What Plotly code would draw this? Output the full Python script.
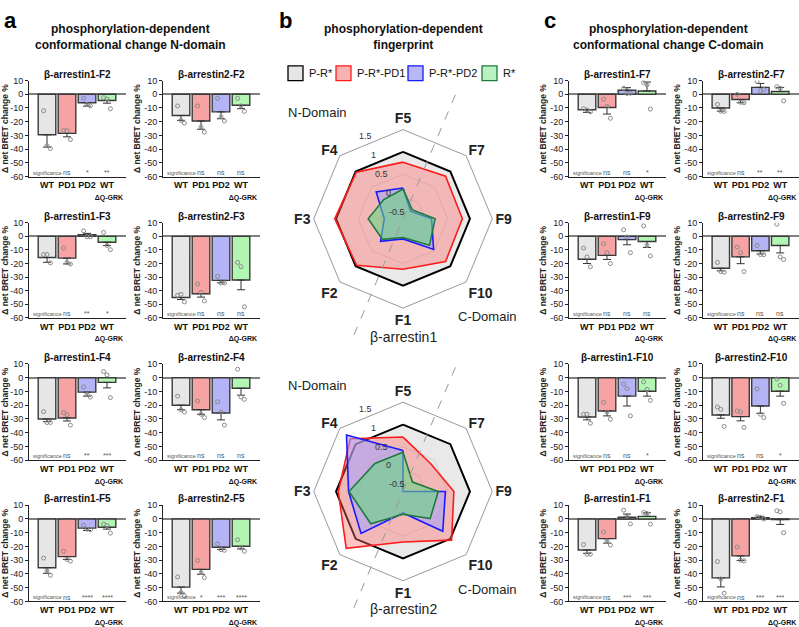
import plotly.graph_objects as go
import math

W, H = 799, 627
FONT = "Liberation Sans, Arial, sans-serif"

# ---------------- data: bar panels ----------------
group_ticks = ["<b>WT</b>", "<b>PD1</b>", "<b>PD2</b>",
               "<b>WT</b><br><span style='font-size:7px'><b>  ΔQ-GRK</b></span>"]
y_tick_vals = [10, 0, -10, -20, -30, -40, -50, -60]
y_tick_text = ["10", "0", "-10", "-20", "-30", "-40", "-50", "-60"]

# panel a (N-domain)
b1_F2_mean = [-29.5, -28.5, -6.2, -4.5]
b1_F2_err = [9.0, 2.5, 2.5, 2.0]
b1_F2_pts = [[-12, -37.5, -39.5], [-26.5, -26.5, -33], [-3, -7.5, -8.5], [-2.5, -3.5, -10.5]]
b1_F2_sig = ["ns", "*", "**"]

b2_F2_mean = [-15.5, -19.5, -12.8, -8.0]
b2_F2_err = [3.5, 6.0, 5.0, 2.5]
b2_F2_pts = [[-8.5, -19, -21], [-8.5, -24, -27.5], [-3, -16.5, -19.5], [-3, -8.5, -12.5]]
b2_F2_sig = ["ns", "ns", "ns"]

b1_F3_mean = [-15.6, -16.0, 1.2, -4.3]
b1_F3_err = [3.5, 4.3, 1.0, 2.5]
b1_F3_pts = [[-13.4, -13.4, -19.5], [-8.6, -19.3, -20.4], [4, -0.3, -0.3], [2.9, -6.7, -9.8]]
b1_F3_sig = ["ns", "**", "*"]

b2_F3_mean = [-45.0, -42.2, -32.4, -32.1]
b2_F3_err = [1.5, 2.5, 1.8, 7.2]
b2_F3_pts = [[-43.4, -42.7, -48.2], [-35, -41.2, -47.5], [-29.5, -34.3, -34.3], [-19.2, -22.3, -51.8]]
b2_F3_sig = ["ns", "ns", "ns"]

b1_F4_mean = [-30.0, -29.3, -10.5, -3.4]
b1_F4_err = [2.0, 2.2, 2.9, 4.0]
b1_F4_pts = [[-24.7, -32.6, -32.6], [-25.4, -27, -34.5], [-6.7, -12.2, -14.1], [4.5, 2.0, -14.5]]
b1_F4_sig = ["ns", "**", "***"]

b2_F4_mean = [-20.0, -23.3, -25.7, -7.7]
b2_F4_err = [3.3, 3.3, 5.0, 5.0]
b2_F4_pts = [[-13.4, -23.3, -25], [-17, -26.6, -29], [-17.5, -25, -34.5], [6.2, -14, -15.8]]
b2_F4_sig = ["ns", "ns", "ns"]

b1_F5_mean = [-35.5, -27.4, -6.7, -6.0]
b1_F5_err = [4.1, 2.1, 1.7, 1.4]
b1_F5_pts = [[-28.5, -37.9, -41], [-23.5, -29.5, -30.7], [-4.6, -7.4, -7.9], [-3.8, -4.8, -10.3]]
b1_F5_sig = ["ns", "****", "****"]

b2_F5_mean = [-49.6, -36.7, -20.6, -19.9]
b2_F5_err = [4.4, 3.6, 1.7, 1.9]
b2_F5_pts = [[-42.2, -53.5, -56], [-30.2, -39.1, -42.7], [-18.2, -22.3, -22.8], [-15.1, -21, -23.5]]
b2_F5_sig = ["*", "***", "****"]

# panel c (C-domain)
b1_F7_mean = [-11.3, -9.6, 2.9, 2.4]
b1_F7_err = [1.9, 4.8, 1.9, 6.5]
b1_F7_pts = [[-10.5, -11.5, -12.8], [-3.6, -8.9, -17.5], [4.3, 0.6, 0.8], [8.5, 6.8, -10.8]]
b1_F7_sig = ["ns", "ns", "*"]

b2_F7_mean = [-10.0, -3.8, 5.0, 2.0]
b2_F7_err = [2.3, 2.4, 2.9, 3.0]
b2_F7_pts = [[-7.3, -12.3, -12.5], [0, -5.8, -6.2], [9.4, 2.6, 3.4], [5.5, 4.3, -4.8]]
b2_F7_sig = ["ns", "**", "**"]

b1_F9_mean = [-16.9, -14.0, -2.4, -3.8]
b1_F9_err = [3.1, 3.0, 3.8, 4.4]
b1_F9_pts = [[-8.6, -15.1, -22.4], [-5.5, -12, -20], [4.8, -0.5, -12], [7.7, -6.7, -14.4]]
b1_F9_sig = ["ns", "ns", "ns"]

b2_F9_mean = [-23.5, -15.1, -10.6, -6.7]
b2_F9_err = [1.9, 5.0, 2.4, 5.5]
b2_F9_pts = [[-19.2, -25.9, -26.4], [-7.9, -12, -25.9], [-6.7, -13.4, -13.5], [8.9, -15.1, -17]]
b2_F9_sig = ["ns", "ns", "ns"]

b1_F10_mean = [-28.6, -24.2, -13.4, -9.8]
b1_F10_err = [2.1, 3.6, 7.2, 3.6]
b1_F10_pts = [[-26.6, -26.6, -33.1], [-17.8, -25, -30.2], [-4.6, -7.9, -27.8], [-3, -8.5, -16.5]]
b1_F10_sig = ["ns", "ns", "*"]

b2_F10_mean = [-27.1, -28.3, -20.6, -9.8]
b2_F10_err = [2.4, 3.1, 5.3, 3.6]
b2_F10_pts = [[-21.3, -23, -35.5], [-24.2, -24.9, -36.2], [-8.1, -26.6, -29], [-1, -5.5, -18.7]]
b2_F10_sig = ["ns", "ns", "*"]

b1_F1_mean = [-22.6, -14.3, 1.2, 1.9]
b1_F1_err = [2.4, 3.3, 2.4, 2.6]
b1_F1_pts = [[-18.6, -25.7, -25.7], [-9.5, -16, -19], [6.4, 2.4, -3.6], [4.8, 4, -3.8]]
b1_F1_sig = ["ns", "***", "***"]

b2_F1_mean = [-42.9, -26.9, 1.0, -0.5]
b2_F1_err = [6.6, 3.3, 0.9, 3.5]
b2_F1_pts = [[-31, -43.7, -54], [-20.5, -30, -30.5], [1.7, 1.2, 0], [6, 5.2, -10]]
b2_F1_sig = ["ns", "***", "***"]

# ---------------- data: radar (fingerprint) ----------------
radar_sensors = ["F5", "F7", "F9", "F10", "F1", "F2", "F3", "F4"]
radar_series = ["P-R*", "P-R*-PD1", "P-R*-PD2", "R*"]
r1_PR = [1, 1, 1, 1, 1, 1, 1, 1]
r1_PD1 = [0.77, 0.85, 0.83, 0.85, 0.63, 0.97, 1.03, 0.98]
r1_PD2 = [0.19, -0.26, 0.14, 0.47, -0.05, 0.21, -0.08, 0.35]
r1_R = [0.17, -0.21, 0.22, 0.34, -0.08, 0.15, 0.28, 0.11]
r2_PR = [1, 1, 1, 1, 1, 1, 1, 1]
r2_PD1 = [0.72, 0.38, 0.64, 1.04, 0.63, 1.30, 0.95, 1.17]
r2_PD2 = [0.42, -0.5, 0.45, 0.76, -0.02, 0.83, 0.72, 1.29]
r2_R = [0.38, -0.2, 0.29, 0.36, 0.01, 0.52, 0.71, 0.39]
radial_range = [-0.5, 1.5]
radial_ticks = [-0.5, 0, 0.5, 1, 1.5]
radial_tick_text = ["-0.5", "0", "0.5", "1", "1.5"]

# ---------------- styles / layout geometry ----------------
bar_fill = ["#e6e6e6", "#f7a3a3", "#b3b3f5", "#b3f5b3"]
bar_edge = "#3a3a3a"
jitter = [-0.17, 0.0, 0.17]
col_px = [(29, 126), (163, 260), (569, 666), (703, 799)]
row_px = [(77, 175), (222, 319), (366, 464), (510, 608)]

panels = [
    ("β-arrestin1-F2", b1_F2_mean, b1_F2_err, b1_F2_pts, b1_F2_sig, 0, 0),
    ("β-arrestin2-F2", b2_F2_mean, b2_F2_err, b2_F2_pts, b2_F2_sig, 1, 0),
    ("β-arrestin1-F3", b1_F3_mean, b1_F3_err, b1_F3_pts, b1_F3_sig, 0, 1),
    ("β-arrestin2-F3", b2_F3_mean, b2_F3_err, b2_F3_pts, b2_F3_sig, 1, 1),
    ("β-arrestin1-F4", b1_F4_mean, b1_F4_err, b1_F4_pts, b1_F4_sig, 0, 2),
    ("β-arrestin2-F4", b2_F4_mean, b2_F4_err, b2_F4_pts, b2_F4_sig, 1, 2),
    ("β-arrestin1-F5", b1_F5_mean, b1_F5_err, b1_F5_pts, b1_F5_sig, 0, 3),
    ("β-arrestin2-F5", b2_F5_mean, b2_F5_err, b2_F5_pts, b2_F5_sig, 1, 3),
    ("β-arrestin1-F7", b1_F7_mean, b1_F7_err, b1_F7_pts, b1_F7_sig, 2, 0),
    ("β-arrestin2-F7", b2_F7_mean, b2_F7_err, b2_F7_pts, b2_F7_sig, 3, 0),
    ("β-arrestin1-F9", b1_F9_mean, b1_F9_err, b1_F9_pts, b1_F9_sig, 2, 1),
    ("β-arrestin2-F9", b2_F9_mean, b2_F9_err, b2_F9_pts, b2_F9_sig, 3, 1),
    ("β-arrestin1-F10", b1_F10_mean, b1_F10_err, b1_F10_pts, b1_F10_sig, 2, 2),
    ("β-arrestin2-F10", b2_F10_mean, b2_F10_err, b2_F10_pts, b2_F10_sig, 3, 2),
    ("β-arrestin1-F1", b1_F1_mean, b1_F1_err, b1_F1_pts, b1_F1_sig, 2, 3),
    ("β-arrestin2-F1", b2_F1_mean, b2_F1_err, b2_F1_pts, b2_F1_sig, 3, 3),
]

fig = go.Figure()
layout = {}
annotations = []
shapes = []


def ann(text, xp, yp, size, xanchor="center", yanchor="middle", color="#222", **kw):
    """text placed in figure pixels (converted to paper coordinates)"""
    d = dict(text=text, x=xp / W, y=1 - yp / H, xref="paper", yref="paper",
             xanchor=xanchor, yanchor=yanchor, showarrow=False,
             font=dict(size=size, family=FONT, color=color))
    d.update(kw)
    annotations.append(d)


xpos = [0, 1, 2, 3]
for k, (title, mean, err, pts, sig, col, row) in enumerate(panels):
    i = k + 1
    sfx = "" if i == 1 else str(i)
    xref, yref = "x" + sfx, "y" + sfx
    x0, x1 = col_px[col]
    y0, y1 = row_px[row]
    fig.add_trace(go.Bar(
        x=xpos, y=mean, width=0.88, xaxis=xref, yaxis=yref, showlegend=False,
        marker=dict(color=bar_fill, line=dict(color=bar_edge, width=1.4)),
        error_y=dict(type="data", symmetric=False,
                     array=[e if m > 0 else 0 for m, e in zip(mean, err)],
                     arrayminus=[e if m <= 0 else 0 for m, e in zip(mean, err)],
                     color="#333333", thickness=1, width=4),
        hoverinfo="skip"))
    px_, py_ = [], []
    for g, vals in enumerate(pts):
        for j, v in enumerate(vals):
            px_.append(xpos[g] + jitter[j])
            py_.append(v)
    fig.add_trace(go.Scatter(
        x=px_, y=py_, mode="markers", xaxis=xref, yaxis=yref, showlegend=False,
        marker=dict(symbol="circle-open", size=4, color="#8a8a8a", line=dict(width=1)),
        hoverinfo="skip"))
    layout["xaxis" + sfx] = dict(
        domain=[x0 / W, x1 / W], anchor=yref, range=[-0.9, 3.95],
        tickvals=xpos, ticktext=group_ticks, ticks="", tickangle=0, showline=True,
        linecolor="#222", linewidth=1, showgrid=False, zeroline=False,
        tickfont=dict(size=9, family=FONT, color="#111"), fixedrange=True)
    layout["yaxis" + sfx] = dict(
        domain=[1 - y1 / H, 1 - y0 / H], anchor=xref, range=[-60, 10],
        tickvals=y_tick_vals, ticktext=y_tick_text, ticks="outside", ticklen=3,
        tickcolor="#222", showline=True, linecolor="#222", linewidth=1,
        showgrid=False, zeroline=True, zerolinecolor="#808080", zerolinewidth=2,
        tickfont=dict(size=9, family=FONT, color="#222"),
        title=dict(text="<b>Δ net BRET change %</b>", standoff=2,
                   font=dict(size=8.5, family=FONT, color="#222")),
        fixedrange=True)
    ann("<b>%s</b>" % title, (x0 + x1) / 2, y0 + 1, 10, yanchor="bottom", color="#111")
    annotations.append(dict(
        text="significance", x=-0.82, y=-57, xref=xref, yref=yref,
        xanchor="left", yanchor="middle", showarrow=False,
        font=dict(size=5.5, family=FONT, color="#555")))
    for g, s in enumerate(sig):
        annotations.append(dict(
            text=s, x=xpos[g + 1], y=-57, xref=xref, yref=yref,
            xanchor="center", yanchor="middle", showarrow=False,
            font=dict(size=7, family=FONT, color="#555")))

# ---------------- radar charts ----------------
radar_colors = [
    dict(line="#000000", fill="rgba(225,225,225,0.75)", width=2),
    dict(line="#ff1a1a", fill="rgba(255,110,110,0.40)", width=1.6),
    dict(line="#1a1aff", fill="rgba(160,160,255,0.55)", width=1.6),
    dict(line="#1f7a3c", fill="rgba(100,215,130,0.58)", width=1.6),
]
legend_fill = ["#e6e6e6", "#f7b3b3", "#b8b8f7", "#b8f2c0"]
radar_sets = [("polar", [r1_PR, r1_PD1, r1_PD2, r1_R]),
              ("polar2", [r2_PR, r2_PD1, r2_PD2, r2_R])]
for subplot, series_vals in radar_sets:
    for s, vals in enumerate(series_vals):
        c = radar_colors[s]
        fig.add_trace(go.Scatterpolar(
            r=vals + vals[:1], theta=radar_sensors + radar_sensors[:1],
            subplot=subplot, mode="lines", fill="toself",
            fillcolor=c["fill"], line=dict(color=c["line"], width=c["width"]),
            name=radar_series[s], showlegend=False, hoverinfo="skip"))

radar_centers = [(403, 218), (403, 496)]
R_PX = 91
lab_dir = math.radians(112.5)   # radial labels drawn between F4 and F5
for idx, (cx, cy) in enumerate(radar_centers):
    key = "polar" if idx == 0 else "polar2"
    layout[key] = dict(
        domain=dict(x=[(cx - R_PX) / W, (cx + R_PX) / W],
                    y=[1 - (cy + R_PX) / H, 1 - (cy - R_PX) / H]),
        bgcolor="rgba(0,0,0,0)", gridshape="linear",
        radialaxis=dict(range=radial_range, tickvals=radial_ticks,
                        showticklabels=False, showline=False, ticks="",
                        gridcolor="#9a9a9a", gridwidth=0.8),
        angularaxis=dict(direction="clockwise", rotation=90, categoryorder="array",
                         categoryarray=radar_sensors, showgrid=False, showline=True,
                         linecolor="#9a9a9a", linewidth=1, ticks="",
                         tickfont=dict(size=14, family=FONT, color="#222", weight="bold")))
    # radial tick labels along the F4/F5 bisector, placed by the radial scale
    for v, t in zip(radial_ticks, radial_tick_text):
        rp = 8 + (v - radial_range[0]) / (radial_range[1] - radial_range[0]) * (R_PX - 8)
        lx = cx + rp * math.cos(lab_dir) - 3
        ly = cy - rp * math.sin(lab_dir)
        ann(t, lx, ly, 9, color="#333")
    L = 137
    a = math.radians(22.5)
    shapes.append(dict(type="line", xref="paper", yref="paper",
                       x0=(cx + L * math.sin(a)) / W, y0=1 - (cy - L * math.cos(a)) / H,
                       x1=(cx - L * math.sin(a)) / W, y1=1 - (cy + L * math.cos(a)) / H,
                       line=dict(color="#9a9a9a", width=1, dash="dash")))
    ann("N-Domain", cx - 86, cy - 108, 13)
    ann("C-Domain", cx + 84, cy + 100, 13)
    ann("β-arrestin%d" % (idx + 1), cx, cy + 120, 14)

# manual legend (outlined boxes) for the radar series
leg_box_x = [288, 336, 408, 482]
for s, name in enumerate(radar_series):
    bx = leg_box_x[s]
    shapes.append(dict(type="rect", xref="paper", yref="paper",
                       x0=bx / W, x1=(bx + 15) / W, y0=1 - 77 / H, y1=1 - 62 / H,
                       fillcolor=legend_fill[s],
                       line=dict(color=radar_colors[s]["line"], width=1.3)))
    ann(name, bx + 19, 69.5, 11, xanchor="left", color="#111")

# ---------------- panel titles and letters ----------------
panel_titles = [("phosphorylation-dependent<br>conformational change N-domain", 130),
                ("phosphorylation-dependent<br>fingerprint", 403),
                ("phosphorylation-dependent<br>conformational change C-domain", 668)]
for txt, xc in panel_titles:
    ann("<b>%s</b>" % txt, xc, 33, 12, color="#111")
for letter, xl in [("a", 2), ("b", 277), ("c", 542)]:
    ann("<b>%s</b>" % letter, xl, 1, 22, xanchor="left", yanchor="top", color="#000")

fig.update_layout(
    width=W, height=H, autosize=False,
    margin=dict(l=0, r=0, t=0, b=0),
    paper_bgcolor="white", plot_bgcolor="rgba(0,0,0,0)",
    font=dict(family=FONT), showlegend=False,
    annotations=annotations, shapes=shapes,
    **layout)

fig.write_html("out.html", config={"displayModeBar": False},
               post_script="document.body.style.margin='0';"
                           "document.body.style.overflow='hidden';")
